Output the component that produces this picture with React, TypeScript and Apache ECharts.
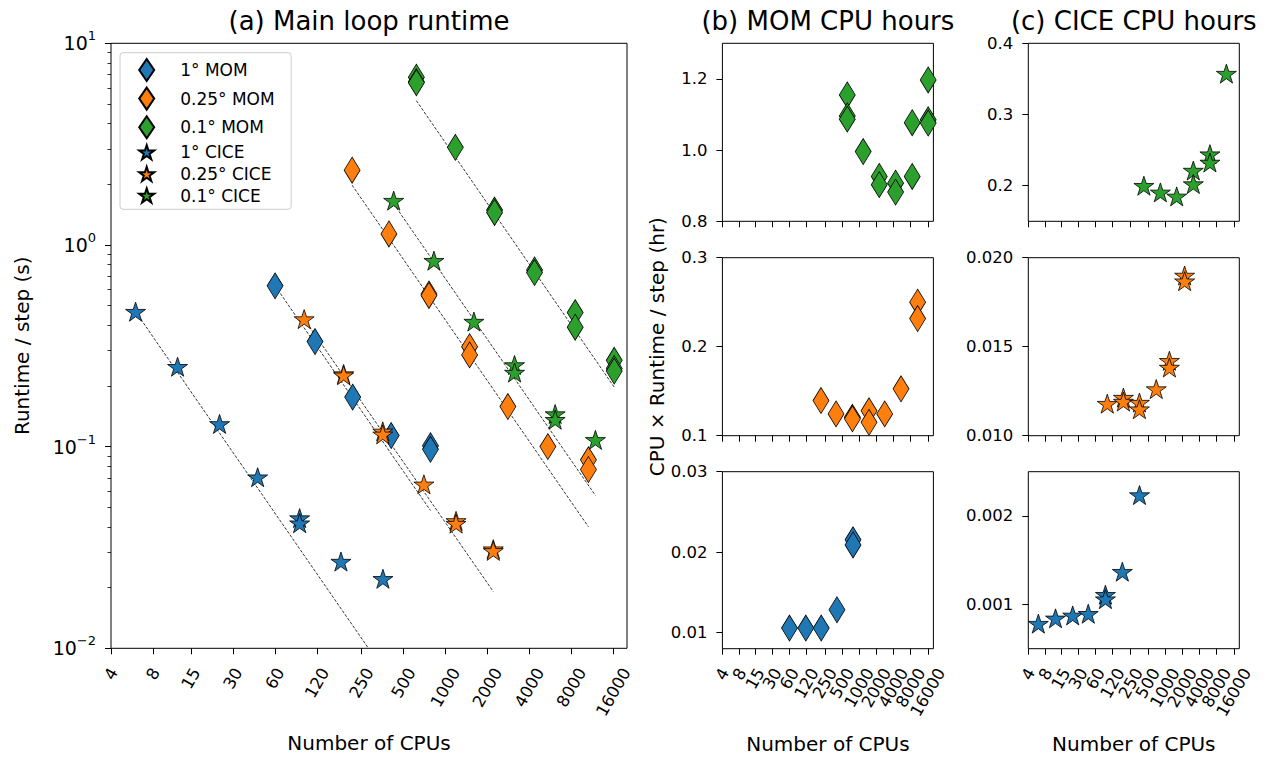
import React, { useEffect, useRef } from 'react';
import * as echarts from 'echarts';

// ---------- tick definitions ----------
const xTicks = [4, 8, 15, 30, 60, 120, 250, 500, 1000, 2000, 4000, 8000, 16000];
const xTickLabels = ['4', '8', '15', '30', '60', '120', '250', '500', '1000', '2000', '4000', '8000', '16000'];
const xMin = 3.999;
const xMax = 20000;

const yTicksA = [0.01, 0.1, 1, 10];
const yTickExpA = ['\u22122', '\u22121', '0', '1'];
const yMinorA = [0.02, 0.03, 0.04, 0.05, 0.06, 0.07, 0.08, 0.09, 0.2, 0.3, 0.4, 0.5, 0.6, 0.7, 0.8, 0.9, 2, 3, 4, 5, 6, 7, 8, 9];
const yMinA = 0.00999;
const yMaxA = 10.01;

// small panels: [min, max], ticks, labels
const bTopRange = [0.8, 1.3];
const bTopTicks = [0.8, 1.0, 1.2];
const bTopLabels = ['0.8', '1.0', '1.2'];
const bMidRange = [0.1, 0.3];
const bMidTicks = [0.1, 0.2, 0.3];
const bMidLabels = ['0.1', '0.2', '0.3'];
const bBotRange = [0.008, 0.03];
const bBotTicks = [0.01, 0.02, 0.03];
const bBotLabels = ['0.01', '0.02', '0.03'];
const cTopRange = [0.15, 0.4];
const cTopTicks = [0.2, 0.3, 0.4];
const cTopLabels = ['0.2', '0.3', '0.4'];
const cMidRange = [0.01, 0.02];
const cMidTicks = [0.01, 0.015, 0.02];
const cMidLabels = ['0.010', '0.015', '0.020'];
const cBotRange = [0.0005, 0.0025];
const cBotTicks = [0.001, 0.002];
const cBotLabels = ['0.001', '0.002'];

// ---------- data ----------
// 1° MOM
const mom1N = [60, 116, 216, 408, 780, 780];
const mom1T = [0.627, 0.332, 0.176, 0.1135, 0.101, 0.097];
const mom1H = [0.01057, 0.01057, 0.01057, 0.01284, 0.02153, 0.0209];
// 0.25° MOM
const mom025N = [214, 393, 761, 761, 1488, 1488, 2800, 5415, 10580, 10580];
const mom025T = [2.35, 1.134, 0.572, 0.562, 0.313, 0.285, 0.158, 0.1, 0.086, 0.077];
const mom025H = [0.1395, 0.1245, 0.1207, 0.119, 0.128, 0.115, 0.1245, 0.1527, 0.25, 0.2316];
// 0.1° MOM
const mom01N = [618, 618, 618, 1176, 2247, 2247, 4346, 4346, 8503, 8503, 16200, 16200, 16200];
const mom01T = [6.8, 6.45, 6.38, 3.05, 1.49, 1.45, 0.752, 0.73, 0.462, 0.391, 0.268, 0.244, 0.237];
const mom01H = [1.155, 1.096, 1.087, 0.996, 0.926, 0.903, 0.907, 0.882, 1.077, 0.926, 1.197, 1.085, 1.076];
// 1° CICE
const cice1N = [6, 12, 24, 45, 90, 90, 178, 356];
const cice1T = [0.467, 0.249, 0.1296, 0.0705, 0.0442, 0.0417, 0.0269, 0.0221];
const cice1H = [0.000783, 0.000843, 0.000876, 0.000895, 0.00111, 0.00106, 0.00137, 0.002236];
// 0.25° CICE
const cice025N = [97, 186, 186, 355, 355, 700, 1190, 1190, 2200, 2200];
const cice025T = [0.429, 0.229, 0.226, 0.119, 0.115, 0.065, 0.0428, 0.0415, 0.031, 0.0304];
const cice025H = [0.0118, 0.01214, 0.01192, 0.01186, 0.01149, 0.01262, 0.01421, 0.01383, 0.019, 0.01868];
// 0.1° CICE
const cice01N = [425, 826, 1598, 3126, 3126, 6110, 6110, 11880];
const cice01T = [1.66, 0.836, 0.417, 0.254, 0.233, 0.145, 0.136, 0.108];
const cice01H = [0.2, 0.1906, 0.185, 0.2213, 0.2023, 0.2443, 0.2326, 0.3574];

// ideal-scaling reference lines (endpoints)
const cice1Line = [[6, 0.467], [280, 0.01]];
const mom1Line = [[60, 0.627], [780, 0.0482]];
const cice025Line = [[97, 0.429], [2200, 0.0191]];
const mom025Line = [[214, 1.98], [10580, 0.04]];
const cice01Line = [[425, 1.6], [11880, 0.0572]];
const mom01Line = [[618, 5.2], [16300, 0.196]];

const legendNames = ['1° MOM', '0.25° MOM', '0.1° MOM', '1° CICE', '0.25° CICE', '0.1° CICE'];

// ---------- styling ----------
const FONT = 'DejaVu Sans';
const BLUE = '#1f77b4';
const ORANGE = '#ff7f0e';
const GREEN = '#2ca02c';
const STAR = 'path://M0,-100L22.45,-30.9L95.1,-30.9L36.33,11.8L58.8,80.9L0,38.2L-58.8,80.9L-36.33,11.8L-95.1,-30.9L-22.45,-30.9Z';
const DIAMOND = 'diamond';
const DIAMOND_SIZE = [16, 26];
const STAR_SIZE = [20, 19];
const TICK_FS = 16.5;
const LABEL_FS = 20;
const TITLE_FS = 26;

const pairs = (xs: number[], ys: number[]) => xs.map((x, i) => [x, ys[i]]);

const findIdx = (arr: number[], v: number) => arr.findIndex((t) => Math.abs(t - v) <= Math.abs(t) * 1e-6);

// even / odd tick subsets (so that crowded labels are not auto-hidden)
const xTicksEven = xTicks.filter((_, i) => i % 2 === 0);
const xTicksOdd = xTicks.filter((_, i) => i % 2 === 1);

// rich styles so rotated x labels are centred under their tick (matplotlib style)
const xRich: Record<string, any> = {};
for (let n = 1; n <= 5; n++) {
  const L = n * 0.636 * TICK_FS;
  const d = 0.433 * L;
  xRich['c' + n] = {
    fontSize: TICK_FS,
    fontFamily: FONT,
    color: '#000',
    padding: [d, 1.732 * d, 0, 0],
  };
}

const xLabelFmt = (v: number) => {
  const i = findIdx(xTicks, v);
  const s = i >= 0 ? xTickLabels[i] : '';
  return `{c${s.length}|${s}}`;
};

const tickLine = { color: '#000', width: 1 };

const nameStyle = { fontSize: LABEL_FS, color: '#000', fontFamily: FONT };

function xLabelCfg(values: number[]) {
  return {
    show: true,
    customValues: values,
    interval: 0,
    rotate: 60,
    align: 'center',
    verticalAlign: 'middle',
    margin: 21,
    formatter: xLabelFmt,
    rich: xRich,
    hideOverlap: false,
    showMinLabel: true,
    showMaxLabel: true,
  };
}

function makeX(gridIndex: number, labelValues: number[] | null, withTicks = true, withName = false) {
  const ax: any = {
    type: 'log',
    logBase: 2,
    gridIndex,
    position: 'bottom',
    min: xMin,
    max: xMax,
    axisLine: { show: false },
    splitLine: { show: false },
    minorTick: { show: false },
    axisTick: withTicks
      ? { show: true, customValues: xTicks, length: 6, lineStyle: tickLine, interval: 0 }
      : { show: false },
    axisLabel: labelValues ? xLabelCfg(labelValues) : { show: false },
  };
  if (withName) {
    ax.name = 'Number of CPUs';
    ax.nameLocation = 'middle';
    ax.nameGap = 85;
    ax.nameTextStyle = nameStyle;
  }
  return ax;
}

function makeY(gridIndex: number, range: number[], ticks: number[], labels: string[], name?: string) {
  const ax: any = {
    type: 'value',
    gridIndex,
    position: 'left',
    min: range[0],
    max: range[1],
    axisLine: { show: false },
    splitLine: { show: false },
    axisTick: { show: true, customValues: ticks, length: 6, lineStyle: tickLine },
    axisLabel: {
      show: true,
      customValues: ticks,
      interval: 0,
      formatter: (v: number) => {
        const i = findIdx(ticks, v);
        return i >= 0 ? labels[i] : '';
      },
      fontSize: TICK_FS,
      fontFamily: FONT,
      color: '#000',
      margin: 15,
      hideOverlap: false,
      showMinLabel: true,
      showMaxLabel: true,
    },
  };
  if (name) {
    ax.name = name;
    ax.nameLocation = 'middle';
    ax.nameGap = 55;
    ax.nameRotate = 90;
    ax.nameTextStyle = nameStyle;
  }
  return ax;
}

const GA = { left: 111, top: 43.3, width: 516, height: 605 };
const colB = 722.4;
const colC = 1028.3;
const colW = 211;
const rowTops = [43.3, 257.7, 471.7];
const rowH = 178;

const gridBase = {
  show: true,
  borderColor: '#000',
  borderWidth: 1,
  backgroundColor: 'transparent',
  containLabel: false,
  outerBoundsMode: 'none',
};

function scatter(name: string, xs: number[], ys: number[], color: string, symbol: string, size: number[], xi: number, yi: number) {
  return {
    type: 'scatter',
    name,
    data: pairs(xs, ys),
    xAxisIndex: xi,
    yAxisIndex: yi,
    symbol,
    symbolSize: size,
    itemStyle: { color, borderColor: '#000', borderWidth: 0.8, opacity: 1 },
    emphasis: { disabled: true },
    z: 3,
    clip: false,
  };
}

function ideal(line: number[][]) {
  return {
    type: 'line',
    name: 'ideal',
    data: line,
    xAxisIndex: 0,
    yAxisIndex: 0,
    symbol: 'none',
    showSymbol: false,
    lineStyle: { color: '#000', width: 0.8, type: [3, 1.6] },
    emphasis: { disabled: true },
    silent: true,
    z: 1,
  };
}

function buildOption(): any {
  const grids = [
    { ...gridBase, ...GA },
    { ...gridBase, left: colB, top: rowTops[0], width: colW, height: rowH },
    { ...gridBase, left: colB, top: rowTops[1], width: colW, height: rowH },
    { ...gridBase, left: colB, top: rowTops[2], width: colW, height: rowH - 1 },
    { ...gridBase, left: colC, top: rowTops[0], width: colW, height: rowH },
    { ...gridBase, left: colC, top: rowTops[1], width: colW, height: rowH },
    { ...gridBase, left: colC, top: rowTops[2], width: colW, height: rowH - 1 },
  ];

  const xAxes = [
    makeX(0, xTicks, true, true),
    makeX(1, null),
    makeX(2, null),
    makeX(3, xTicksEven, true, true),
    makeX(4, null),
    makeX(5, null),
    makeX(6, xTicksEven, true, true),
    // odd-indexed labels of the crowded small panels, drawn by twin axes
    makeX(3, xTicksOdd, false, false),
    makeX(6, xTicksOdd, false, false),
  ];

  const yA: any = {
    type: 'log',
    logBase: 10,
    gridIndex: 0,
    position: 'left',
    min: yMinA,
    max: yMaxA,
    axisLine: { show: false },
    splitLine: { show: false },
    minorTick: { show: false },
    axisTick: { show: true, customValues: yTicksA, length: 6, lineStyle: tickLine },
    axisLabel: {
      show: true,
      customValues: yTicksA,
      interval: 0,
      margin: 15,
      formatter: (v: number) => {
        const i = findIdx(yTicksA, v);
        return i >= 0 ? `{b|10}{s|${yTickExpA[i]}}` : '';
      },
      rich: {
        b: { fontSize: 19, fontFamily: FONT, color: '#000', lineHeight: 28 },
        s: { fontSize: 13, fontFamily: FONT, color: '#000', lineHeight: 11, verticalAlign: 'top' },
      },
      showMinLabel: true,
      showMaxLabel: true,
      hideOverlap: false,
    },
    name: 'Runtime / step (s)',
    nameLocation: 'middle',
    nameGap: 79,
    nameRotate: 90,
    nameTextStyle: nameStyle,
  };
  const yAMinor: any = {
    type: 'log',
    logBase: 10,
    gridIndex: 0,
    position: 'left',
    min: yMinA,
    max: yMaxA,
    axisLine: { show: false },
    splitLine: { show: false },
    minorTick: { show: false },
    axisTick: { show: true, customValues: yMinorA, length: 3.5, lineStyle: { color: '#000', width: 0.8 } },
    axisLabel: { show: false },
  };

  const yAxes = [
    yA,
    yAMinor,
    makeY(1, bTopRange, bTopTicks, bTopLabels),
    makeY(2, bMidRange, bMidTicks, bMidLabels, 'CPU × Runtime / step (hr)'),
    makeY(3, bBotRange, bBotTicks, bBotLabels),
    makeY(4, cTopRange, cTopTicks, cTopLabels),
    makeY(5, cMidRange, cMidTicks, cMidLabels),
    makeY(6, cBotRange, cBotTicks, cBotLabels),
  ];

  const series: any[] = [
    ideal(cice1Line),
    ideal(mom1Line),
    ideal(cice025Line),
    ideal(mom025Line),
    ideal(cice01Line),
    ideal(mom01Line),
    scatter('1° MOM', mom1N, mom1T, BLUE, DIAMOND, DIAMOND_SIZE, 0, 0),
    scatter('0.25° MOM', mom025N, mom025T, ORANGE, DIAMOND, DIAMOND_SIZE, 0, 0),
    scatter('0.1° MOM', mom01N, mom01T, GREEN, DIAMOND, DIAMOND_SIZE, 0, 0),
    scatter('1° CICE', cice1N, cice1T, BLUE, STAR, STAR_SIZE, 0, 0),
    scatter('0.25° CICE', cice025N, cice025T, ORANGE, STAR, STAR_SIZE, 0, 0),
    scatter('0.1° CICE', cice01N, cice01T, GREEN, STAR, STAR_SIZE, 0, 0),
    // (b) MOM CPU hours
    scatter('0.1° MOM hours', mom01N, mom01H, GREEN, DIAMOND, DIAMOND_SIZE, 1, 2),
    scatter('0.25° MOM hours', mom025N, mom025H, ORANGE, DIAMOND, DIAMOND_SIZE, 2, 3),
    scatter('1° MOM hours', mom1N, mom1H, BLUE, DIAMOND, DIAMOND_SIZE, 3, 4),
    // (c) CICE CPU hours
    scatter('0.1° CICE hours', cice01N, cice01H, GREEN, STAR, STAR_SIZE, 4, 5),
    scatter('0.25° CICE hours', cice025N, cice025H, ORANGE, STAR, STAR_SIZE, 5, 6),
    scatter('1° CICE hours', cice1N, cice1H, BLUE, STAR, STAR_SIZE, 6, 7),
  ];

  const titleStyle = { fontSize: TITLE_FS, fontWeight: 'normal', color: '#000', fontFamily: FONT, lineHeight: 30 };

  return {
    animation: false,
    backgroundColor: '#ffffff',
    textStyle: { fontFamily: FONT },
    title: [
      { text: '(a) Main loop runtime', left: GA.left + GA.width / 2, top: 6, textAlign: 'center', padding: 0, textStyle: titleStyle },
      { text: '(b) MOM CPU hours', left: colB + colW / 2, top: 6, textAlign: 'center', padding: 0, textStyle: titleStyle },
      { text: '(c) CICE CPU hours', left: colC + colW / 2, top: 6, textAlign: 'center', padding: 0, textStyle: titleStyle },
    ],
    legend: {
      data: legendNames,
      orient: 'vertical',
      left: 120,
      top: 52.7,
      itemWidth: 15,
      itemHeight: 22,
      itemGap: 4.6,
      padding: [5.3, 16.5, 5.3, 18.2],
      backgroundColor: 'rgba(255,255,255,0.8)',
      borderColor: '#cccccc',
      borderWidth: 1,
      borderRadius: 3,
      selectedMode: false,
      align: 'left',
      textStyle: { fontSize: 17, color: '#000', fontFamily: FONT, padding: [0, 0, 0, 21] },
    },
    grid: grids,
    xAxis: xAxes,
    yAxis: yAxes,
    series,
  };
}

export default function App() {
  const ref = useRef<HTMLDivElement>(null);
  useEffect(() => {
    if (!ref.current) return;
    const chart = echarts.init(ref.current, null, { renderer: 'svg' });
    chart.setOption(buildOption());
    return () => {
      chart.dispose();
    };
  }, []);
  return (
    <div
      ref={ref}
      style={{ position: 'fixed', left: 0, top: 0, width: 1269, height: 758, background: '#ffffff' }}
    />
  );
}
